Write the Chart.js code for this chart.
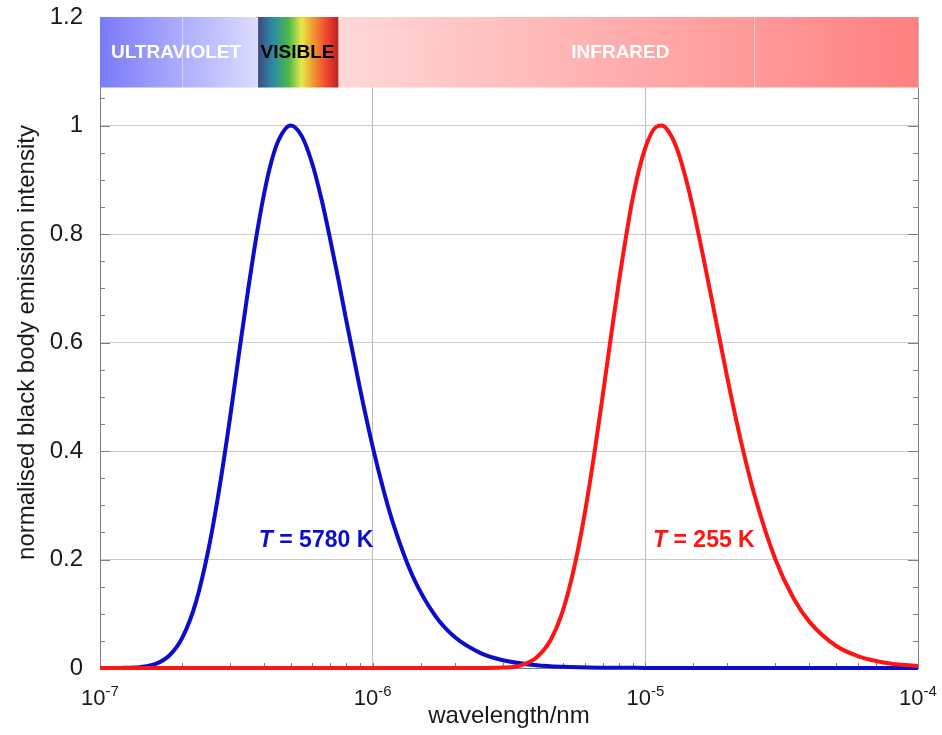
<!DOCTYPE html>
<html>
<head>
<meta charset="utf-8">
<script src="https://cdn.jsdelivr.net/npm/chart.js"></script>
<style>
    html, body { margin: 0; padding: 0; background: #fff; }
</style>
</head>
<body>
<canvas id="bbChart" width="942" height="735"></canvas>
<script>
    // T = 5780 K curve (wavelength in m, normalised intensity)
    const sunLambda = [1e-7, 1.1e-7, 1.2e-7, 1.3e-7, 1.4e-7, 1.6e-7, 1.8e-7, 2e-7, 2.25e-7, 2.5e-7, 2.75e-7,
        3e-7, 3.25e-7, 3.5e-7, 3.75e-7, 4e-7, 4.25e-7, 4.5e-7, 5e-7, 5.5e-7, 6e-7, 6.5e-7, 7e-7, 7.5e-7,
        8e-7, 9e-7, 1e-6, 1.1e-6, 1.2e-6, 1.4e-6, 1.7e-6, 2e-6, 2.5e-6, 3e-6, 4e-6, 5e-6, 7e-6, 1e-5,
        2e-5, 5e-5, 1e-4]
    const sunIntensity = [0, 0, 0.0002, 0.0006, 0.0016, 0.0075, 0.0235, 0.055, 0.122, 0.219, 0.336,
        0.462, 0.587, 0.700, 0.797, 0.875, 0.933, 0.971, 1.0, 0.980, 0.930, 0.863, 0.788, 0.714,
        0.641, 0.513, 0.408, 0.325, 0.260, 0.170, 0.0955, 0.057, 0.027, 0.0144, 0.0051, 0.0022, 0.0006, 0.0002,
        0, 0, 0]

    // T = 255 K curve
    const earthLambda = [1e-7, 1e-6, 2e-6, 2.5e-6, 3e-6, 3.5e-6, 4e-6, 4.5e-6, 5e-6, 5.5e-6, 6e-6, 6.5e-6,
        7e-6, 7.5e-6, 8e-6, 9e-6, 1e-5, 1.1e-5, 1.15e-5, 1.2e-5, 1.3e-5, 1.4e-5, 1.5e-5, 1.75e-5, 2e-5,
        2.25e-5, 2.5e-5, 3e-5, 3.5e-5, 4e-5, 5e-5, 6e-5, 7e-5, 8e-5, 1e-4]
    const earthIntensity = [0, 0, 0, 0.00004, 0.0008, 0.005, 0.020, 0.052, 0.108, 0.188, 0.286, 0.395,
        0.507, 0.615, 0.712, 0.867, 0.959, 0.998, 1.0, 0.993, 0.960, 0.907, 0.845, 0.681, 0.534,
        0.415, 0.323, 0.200, 0.128, 0.085, 0.041, 0.022, 0.013, 0.008, 0.0036]

    const xTickValues = [1e-7, 1e-6, 1e-5, 1e-4]
    const xTickExponents = ['-7', '-6', '-5', '-4']
    const yTickValues = [0, 0.2, 0.4, 0.6, 0.8, 1, 1.2]
    const yTickLabels = ['0', '0.2', '0.4', '0.6', '0.8', '1', '1.2']

    // spectrum strip along the top
    const bandNames = ['ULTRAVIOLET', 'VISIBLE', 'INFRARED']
    const bandEdges = [1e-7, 3.8e-7, 7.5e-7, 1e-4]
    const bandLabelAt = [1.9e-7, 5.3e-7, 8.1e-6]
    const bandSeams = [2e-7, 2.5e-5]
    const bandBottom = 1.07

    const curveTemps = ['5780 K', '255 K']
    const curveLabelAt = [6.2e-7, 1.64e-5]
    const curveLabelY = 0.235

    const BLUE = '#0c0ccc'
    const RED = '#ff1414'
    const FONT = '"Liberation Sans", Arial, sans-serif'

    function near(v, list) {
        return list.findIndex(t => Math.abs(t - v) < 1e-6)
    }
    function isDecade(v) {
        const l = Math.log10(v)
        return Math.abs(l - Math.round(l)) < 1e-6
    }

    const decor = {
        id: 'decor',
        beforeDatasetsDraw(chart) {
            const ctx = chart.ctx
            const xs = chart.scales.x, ys = chart.scales.y
            const top = ys.getPixelForValue(1.2), bot = ys.getPixelForValue(bandBottom)
            const px = bandEdges.map(v => xs.getPixelForValue(v))
            ctx.save()

            // ultraviolet
            let g = ctx.createLinearGradient(px[0], 0, px[1], 0)
            g.addColorStop(0, '#7a7afa')
            g.addColorStop(1, '#dcdcfe')
            ctx.fillStyle = g
            ctx.fillRect(px[0], top, px[1] - px[0], bot - top)

            // visible
            g = ctx.createLinearGradient(px[1], 0, px[2], 0)
            g.addColorStop(0, '#424a82')
            g.addColorStop(0.18, '#2b8aa6')
            g.addColorStop(0.38, '#4cb84a')
            g.addColorStop(0.54, '#e6e84a')
            g.addColorStop(0.7, '#f09030')
            g.addColorStop(0.86, '#f04030')
            g.addColorStop(1, '#b82222')
            ctx.fillStyle = g
            ctx.fillRect(px[1], top, px[2] - px[1], bot - top)

            // infrared
            g = ctx.createLinearGradient(px[2], 0, px[3], 0)
            g.addColorStop(0, '#ffd8d8')
            g.addColorStop(1, '#ff8080')
            ctx.fillStyle = g
            ctx.fillRect(px[2], top, px[3] - px[2], bot - top)

            ctx.strokeStyle = 'rgba(255,255,255,0.45)'
            ctx.lineWidth = 1
            bandSeams.forEach(v => {
                const x = Math.round(xs.getPixelForValue(v)) + 0.5
                ctx.beginPath(); ctx.moveTo(x, top); ctx.lineTo(x, bot); ctx.stroke()
            })

            ctx.font = 'bold 19px ' + FONT
            ctx.textAlign = 'center'
            ctx.textBaseline = 'middle'
            bandNames.forEach((name, i) => {
                ctx.fillStyle = name === 'VISIBLE' ? '#000' : '#fff'
                ctx.fillText(name, xs.getPixelForValue(bandLabelAt[i]), (top + bot) / 2 + 1)
            })

            // right axis line and inward ticks
            const L = chart.chartArea.left, R = chart.chartArea.right, B = chart.chartArea.bottom
            ctx.strokeStyle = '#808080'
            ctx.beginPath(); ctx.moveTo(R + 0.5, bot); ctx.lineTo(R + 0.5, B); ctx.stroke()
            ys.ticks.forEach(t => {
                if (t.value > bandBottom) return
                const y = Math.round(ys.getPixelForValue(t.value)) + 0.5
                const len = near(t.value, yTickValues) >= 0 ? 10 : 5
                ctx.beginPath()
                ctx.moveTo(L, y); ctx.lineTo(L + len, y)
                ctx.moveTo(R, y); ctx.lineTo(R - len, y)
                ctx.stroke()
            })
            xs.ticks.forEach(t => {
                const x = Math.round(xs.getPixelForValue(t.value)) + 0.5
                ctx.beginPath(); ctx.moveTo(x, B); ctx.lineTo(x, B - 5); ctx.stroke()
            })
            ctx.restore()
        },
        afterDraw(chart) {
            const ctx = chart.ctx
            const xs = chart.scales.x, ys = chart.scales.y
            const B = chart.chartArea.bottom
            ctx.save()
            ctx.fillStyle = '#1a1a1a'
            ctx.textBaseline = 'alphabetic'
            ctx.textAlign = 'left'
            xTickValues.forEach((v, i) => {
                ctx.font = '22px ' + FONT
                const w1 = ctx.measureText('10').width
                ctx.font = '15px ' + FONT
                const w2 = ctx.measureText(xTickExponents[i]).width
                const x0 = xs.getPixelForValue(v) - (w1 + w2) / 2
                ctx.font = '22px ' + FONT
                ctx.fillText('10', x0, B + 37)
                ctx.font = '15px ' + FONT
                ctx.fillText(xTickExponents[i], x0 + w1, B + 28)
            })

            // temperature labels
            const colors = [BLUE, RED]
            curveTemps.forEach((txt, i) => {
                const rest = ' = ' + txt
                ctx.font = 'italic bold 23px ' + FONT
                const wT = ctx.measureText('T').width
                ctx.font = 'bold 23px ' + FONT
                const wR = ctx.measureText(rest).width
                const x0 = xs.getPixelForValue(curveLabelAt[i]) - (wT + wR) / 2
                const y = ys.getPixelForValue(curveLabelY)
                ctx.fillStyle = colors[i]
                ctx.textBaseline = 'middle'
                ctx.font = 'italic bold 23px ' + FONT
                ctx.fillText('T', x0, y)
                ctx.font = 'bold 23px ' + FONT
                ctx.fillText(rest, x0 + wT, y)
            })
            ctx.restore()
        }
    }

    const ctx = document.getElementById('bbChart').getContext('2d')
    const chart = new Chart(ctx, {
        type: 'line',
        data: {
            datasets: [{
                label: 'T = 255 K',
                data: earthLambda.map((l, i) => ({ x: l, y: earthIntensity[i] })),
                borderColor: RED,
                borderWidth: 4,
                pointRadius: 0,
                cubicInterpolationMode: 'monotone',
                clip: false
            }, {
                label: 'T = 5780 K',
                data: sunLambda.map((l, i) => ({ x: l, y: sunIntensity[i] })),
                borderColor: BLUE,
                borderWidth: 4,
                pointRadius: 0,
                cubicInterpolationMode: 'monotone',
                clip: false
            }]
        },
        options: {
            responsive: false,
            animation: false,
            layout: { padding: { top: 17, right: 24, left: 0, bottom: 0 } },
            plugins: { legend: { display: false }, tooltip: { enabled: false } },
            scales: {
                x: {
                    type: 'logarithmic',
                    min: 1e-7,
                    max: 1e-4,
                    afterFit: axis => { axis.height = 67; axis.paddingLeft = 0; axis.paddingRight = 0 },
                    ticks: { display: false, autoSkip: false },
                    grid: {
                        drawTicks: false,
                        color: c => (c.tick && isDecade(c.tick.value)) ? '#bdbdbd' : 'rgba(0,0,0,0)'
                    },
                    border: { display: true, color: '#808080', width: 1 },
                    title: {
                        display: true,
                        text: 'wavelength/nm',
                        color: '#1a1a1a',
                        font: { family: FONT, size: 24 },
                        padding: { top: 0, bottom: 4 }
                    }
                },
                y: {
                    min: 0,
                    max: 1.2,
                    afterFit: axis => { axis.width = 100; axis.paddingTop = 0; axis.paddingBottom = 0 },
                    ticks: {
                        stepSize: 0.05,
                        autoSkip: false,
                        padding: 17,
                        color: '#1a1a1a',
                        font: { family: FONT, size: 24 },
                        callback: v => {
                            const i = near(v, yTickValues)
                            return i >= 0 ? yTickLabels[i] : ''
                        }
                    },
                    grid: {
                        drawTicks: false,
                        color: c => (c.tick && near(c.tick.value, yTickValues) >= 0) ? '#cccccc' : 'rgba(0,0,0,0)'
                    },
                    border: { display: true, color: '#808080', width: 1 },
                    title: {
                        display: true,
                        text: 'normalised black body emission intensity',
                        color: '#1a1a1a',
                        font: { family: FONT, size: 24 },
                        padding: { top: 13, bottom: 0 }
                    }
                }
            }
        },
        plugins: [decor]
    })
</script>
</body>
</html>
